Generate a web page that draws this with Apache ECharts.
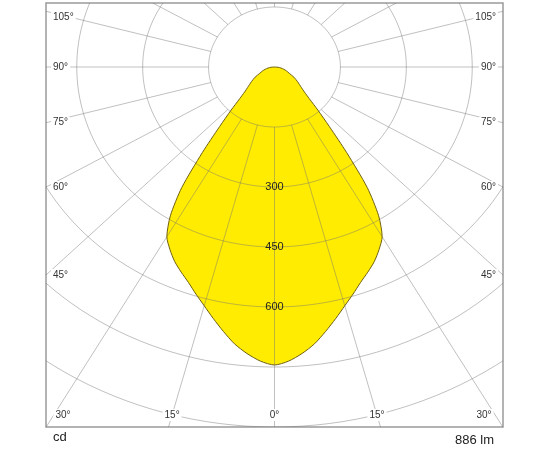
<!DOCTYPE html>
<html>
<head>
<meta charset="utf-8">
<script src="https://cdn.jsdelivr.net/npm/echarts@6/dist/echarts.min.js"></script>
<style>
html,body{margin:0;padding:0;background:#fff;}
#chart{width:550px;height:450px;}
</style>
</head>
<body>
<div id="chart"></div>
<script>
// ---- data ----
const gammaAngles = [0,2.5,5,7.5,10,12.5,15,17.5,20,22.5,25,27.5,30,32.5,35,37.5,40,42.5,45,47.5,50,55,60,65,70,75,80,85,90];
const intensityCd = [745,736,719,698,671,644,618,595,573,555,537,515,490,441,368,270,194,146,112,92,80,64,51,37,29,22,15,8,0];
const ringValues = [150,300,450,600,750,900,1050];
const ringLabelValues = [300,450,600];
const spokeAngles = [0,15,30,45,60,75,90,105,120,135,150,165,180,195,210,225,240,255,270,285,300,315,330,345];
const sideLabelAngles = [45,60,75,90,105];
const bottomLabelAngles = [0,15,30];
const unitText = 'cd';
const fluxText = '886 lm';

// axis extents (cd)
const X_MAX = 520, Y_MIN = -900, Y_MAX = 160;

const FONT = '"Liberation Sans", Arial, Helvetica, sans-serif';
const GRID_COLOR = 'rgba(115,115,115,0.45)';
const rad = d => d * Math.PI / 180;

// closed polygon of the curve (symmetric C-planes)
const curvePoints = [];
for (let i = gammaAngles.length - 1; i >= 0; i--) {
  const g = rad(gammaAngles[i]), I = intensityCd[i];
  curvePoints.push([-I * Math.sin(g), -I * Math.cos(g)]);
}
for (let i = 1; i < gammaAngles.length; i++) {
  const g = rad(gammaAngles[i]), I = intensityCd[i];
  curvePoints.push([I * Math.sin(g), -I * Math.cos(g)]);
}

function spokeEnd(a) {
  const dx = Math.sin(rad(a)), dy = -Math.cos(rad(a));
  let r = 1e9;
  if (Math.abs(dx) > 1e-9) r = Math.min(r, X_MAX / Math.abs(dx));
  if (dy < -1e-9) r = Math.min(r, Y_MIN / dy);
  if (dy > 1e-9) r = Math.min(r, Y_MAX / dy);
  return [r * dx, r * dy];
}

const chart = echarts.init(document.getElementById('chart'), null, {renderer: 'canvas'});

const labelStyle = (text, x, y, align) => ({
  text: text, x: x, y: y, align: align, verticalAlign: 'middle',
  font: '10px ' + FONT, fill: '#333',
  backgroundColor: '#fff', padding: [1, 2, 1, 2]
});

const option = {
  animation: false,
  grid: {left: 46, right: 47, top: 3, bottom: 23, show: true, borderColor: '#9a9a9a', borderWidth: 1.5, backgroundColor: 'transparent'},
  xAxis: {type: 'value', min: -X_MAX, max: X_MAX, show: false},
  yAxis: {type: 'value', min: Y_MIN, max: Y_MAX, show: false},
  graphic: [
    {type: 'text', left: 53, top: 431, style: {text: unitText, font: '13px ' + FONT, fill: '#222'}},
    {type: 'text', right: 56, top: 434, style: {text: fluxText, font: '13px ' + FONT, fill: '#222'}}
  ],
  series: [
    { // yellow fill
      type: 'custom', coordinateSystem: 'cartesian2d', z: 1, silent: true,
      data: curvePoints,
      renderItem: function (params, api) {
        if (params.dataIndex !== 0) return null;
        return {type: 'polygon', shape: {points: curvePoints.map(p => api.coord(p)), smooth: 0.25},
                style: {fill: '#ffec00', stroke: null}};
      }
    },
    { // rings
      type: 'custom', coordinateSystem: 'cartesian2d', z: 2, silent: true, clip: true,
      data: ringValues.map(v => [0, -v]),
      renderItem: function (params, api) {
        const r = ringValues[params.dataIndex];
        const pts = [];
        for (let d = 0; d <= 360; d += 2) pts.push(api.coord([r * Math.sin(rad(d)), -r * Math.cos(rad(d))]));
        return {type: 'polyline', shape: {points: pts}, style: {stroke: GRID_COLOR, lineWidth: 1, fill: null}};
      }
    },
    { // spokes
      type: 'custom', coordinateSystem: 'cartesian2d', z: 2, silent: true, clip: true,
      data: spokeAngles.map(a => [0, 0]),
      renderItem: function (params, api) {
        const a = spokeAngles[params.dataIndex];
        const r0 = ringValues[0];
        const p0 = api.coord([r0 * Math.sin(rad(a)), -r0 * Math.cos(rad(a))]);
        const p1 = api.coord(spokeEnd(a));
        return {type: 'line', shape: {x1: p0[0], y1: p0[1], x2: p1[0], y2: p1[1]}, style: {stroke: GRID_COLOR, lineWidth: 1}};
      }
    },
    { // outline
      type: 'custom', coordinateSystem: 'cartesian2d', z: 3, silent: true,
      data: curvePoints,
      renderItem: function (params, api) {
        if (params.dataIndex !== 0) return null;
        return {type: 'polygon', shape: {points: curvePoints.map(p => api.coord(p)), smooth: 0.25},
                style: {fill: null, stroke: '#6f6010', lineWidth: 1}};
      }
    },
    { // ring value labels
      type: 'custom', coordinateSystem: 'cartesian2d', z: 4, silent: true,
      data: ringLabelValues.map(v => [0, -v]),
      renderItem: function (params, api) {
        const v = ringLabelValues[params.dataIndex];
        const p = api.coord([0, -v]);
        return {type: 'text', style: {text: String(v), x: p[0], y: p[1], align: 'center', verticalAlign: 'middle',
                font: '11px ' + FONT, fill: '#222'}};
      }
    },
    { // side angle labels
      type: 'custom', coordinateSystem: 'cartesian2d', z: 5, silent: true,
      data: sideLabelAngles.map(a => [0, 0]),
      renderItem: function (params, api) {
        const a = sideLabelAngles[params.dataIndex];
        const top = api.coord([0, Y_MAX])[1];
        const leftPx = api.coord([-X_MAX, 0])[0], rightPx = api.coord([X_MAX, 0])[0];
        const e = spokeEnd(a);
        const y = Math.max(api.coord(e)[1], top + 14);
        const t = a + '°';
        return {type: 'group', children: [
          {type: 'text', style: labelStyle(t, leftPx + 5, y, 'left')},
          {type: 'text', style: labelStyle(t, rightPx - 5, y, 'right')}
        ]};
      }
    },
    { // bottom angle labels
      type: 'custom', coordinateSystem: 'cartesian2d', z: 5, silent: true,
      data: bottomLabelAngles.map(a => [0, 0]),
      renderItem: function (params, api) {
        const a = bottomLabelAngles[params.dataIndex];
        const leftPx = api.coord([-X_MAX, 0])[0], rightPx = api.coord([X_MAX, 0])[0];
        const yData = Y_MIN + 30;
        const xData = Math.abs(yData) * Math.tan(rad(a));
        const t = a + '°';
        const children = [];
        const sides = a === 0 ? [1] : [-1, 1];
        sides.forEach(s => {
          const p = api.coord([s * xData, yData]);
          const x = Math.min(Math.max(p[0], leftPx + 17), rightPx - 19);
          children.push({type: 'text', style: labelStyle(t, x, p[1], 'center')});
        });
        return {type: 'group', children: children};
      }
    }
  ]
};
chart.setOption(option);
</script>
</body>
</html>
